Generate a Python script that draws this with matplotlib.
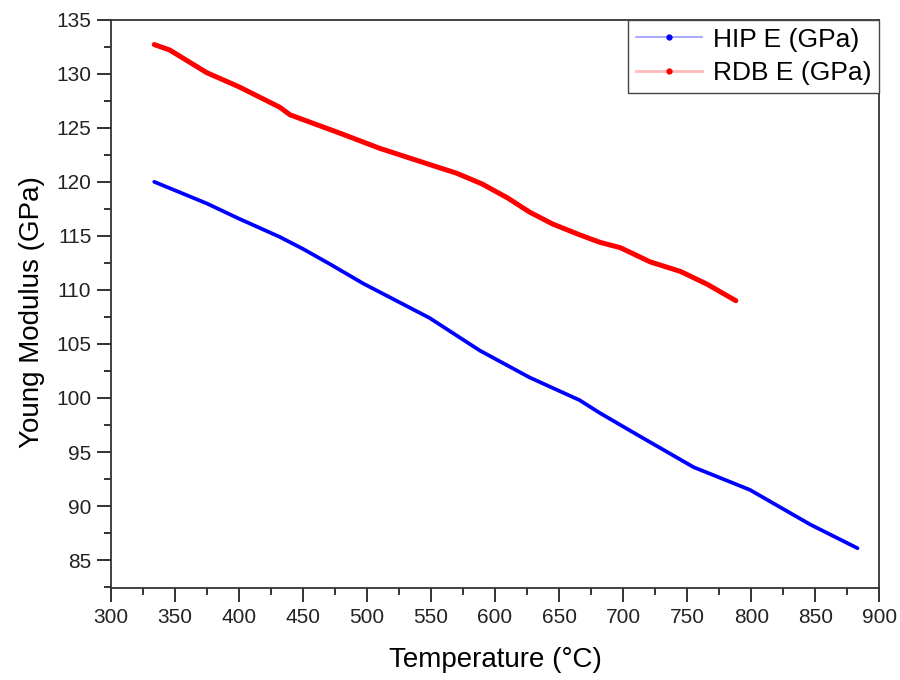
import matplotlib
matplotlib.use("Agg")
import matplotlib.pyplot as plt
from matplotlib.lines import Line2D
from matplotlib.ticker import MultipleLocator

plt.rcParams['font.family'] = ['Liberation Sans', 'DejaVu Sans']

# values
hip_temp = [334, 375, 400, 432, 450, 471, 497, 549, 588, 627, 666, 682, 711, 755, 799, 846, 883]
hip_e = [120.0, 118.0, 116.6, 114.9, 113.8, 112.4, 110.6, 107.4, 104.4, 101.9, 99.8, 98.6,
         96.6, 93.6, 91.5, 88.3, 86.1]

rdb_temp = [334, 346, 375, 400, 432, 440, 479, 510, 549, 570, 590, 610, 627, 645, 666, 682,
            698, 721, 745, 766, 788]
rdb_e = [132.7, 132.2, 130.1, 128.8, 126.9, 126.2, 124.5, 123.1, 121.6, 120.8, 119.8, 118.5,
         117.2, 116.1, 115.1, 114.4, 113.9, 112.6, 111.7, 110.5, 109.0]

labels = ["HIP E (GPa)", "RDB E (GPa)"]

fig = plt.figure(figsize=(9, 6.8), dpi=100)
ax = fig.add_axes([0.123, 0.135, 0.854, 0.836])

ax.plot(hip_temp, hip_e, color="#0000ff", lw=2.7, solid_capstyle="round",
        solid_joinstyle="round")
ax.plot(rdb_temp, rdb_e, color="#ff0000", lw=3.6, solid_capstyle="round",
        solid_joinstyle="round")

ax.set_xlim(300, 900)
ax.set_ylim(82.4, 135)
ax.xaxis.set_major_locator(MultipleLocator(50))
ax.xaxis.set_minor_locator(MultipleLocator(25))
ax.yaxis.set_major_locator(MultipleLocator(5))
ax.yaxis.set_minor_locator(MultipleLocator(2.5))

ax.tick_params(which="both", direction="out", width=1.3, labelsize=15, colors="#222222")
ax.tick_params(which="major", length=10, pad=4)
ax.tick_params(which="minor", length=5)
for s in ax.spines.values():
    s.set_linewidth(1.3)
    s.set_color("#333333")

ax.set_xlabel("Temperature (°C)", fontsize=20, labelpad=15)
ax.set_ylabel("Young Modulus (GPa)", fontsize=20, labelpad=9)
ax.yaxis.set_label_coords(-0.086, 0.485)

handles = [
    Line2D([], [], color="#9999ff", lw=1.2, marker="o", markersize=3.5,
           markerfacecolor="#0000ff", markeredgecolor="#0000ff"),
    Line2D([], [], color="#ffbbbb", lw=2.0, marker="o", markersize=3.5,
           markerfacecolor="#ff0000", markeredgecolor="#ff0000"),
]
leg = ax.legend(handles, labels, loc="upper right", fontsize=19, fancybox=False,
                framealpha=1, edgecolor="#444444", borderpad=0.3, labelspacing=0.35,
                handlelength=2.5, handletextpad=0.4, borderaxespad=0.0)
leg.get_frame().set_linewidth(1.0)

fig.savefig("out.png", dpi=100)
